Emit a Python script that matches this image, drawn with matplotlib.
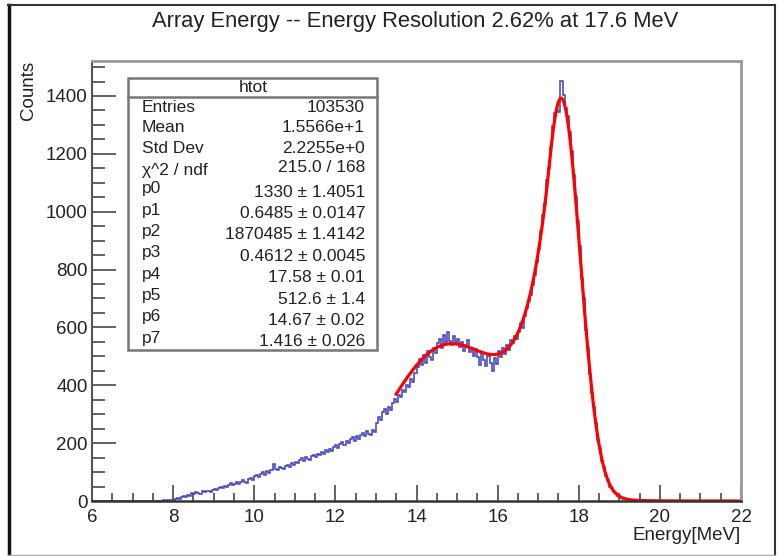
import numpy as np
import matplotlib
matplotlib.use('Agg')
import matplotlib.pyplot as plt
from matplotlib.patches import Rectangle
from matplotlib.lines import Line2D
from matplotlib.ticker import MultipleLocator

plt.rcParams['font.family'] = ['Liberation Sans', 'DejaVu Sans']

# histogram htot: 320 bins from 6 to 22 MeV
bin_lo, bin_hi, nbins = 6.0, 22.0, 320
counts = [
    # 6 - 7
    0, 0, 0, 0, 0, 0, 0, 0, 0, 0, 0, 0, 0, 0, 0, 0, 0, 0, 0, 0,
    # 7 - 8
    0, 0, 0, 0, 0, 0, 0, 0, 0, 0, 0, 1, 0, 0, 1, 2, 1, 3, 2, 4,
    # 8 - 9
    4, 7, 10, 8, 13, 17, 14, 21, 19, 26, 23, 30, 27, 25, 33, 30, 36, 34, 31, 39,
    # 9 - 10
    43, 38, 46, 50, 44, 52, 48, 57, 61, 54, 60, 66, 59, 64, 71, 67, 63, 75, 81, 74,
    # 10 - 11
    86, 90, 83, 95, 99, 91, 102, 97, 108, 127, 112, 106, 118, 113, 109, 121, 126, 117, 130, 124,
    # 11 - 12
    136, 131, 142, 147, 138, 151, 144, 140, 155, 160, 152, 164, 158, 169, 163, 176, 171, 180, 174, 186,
    # 12 - 13
    192, 184, 197, 203, 195, 208, 201, 214, 220, 209, 223, 216, 229, 235, 226, 241, 232, 228, 246, 238,
    # 13 - 14
    270, 292, 281, 306, 318, 302, 324, 314, 338, 352, 341, 366, 358, 384, 376, 402, 395, 422, 412, 444,
    # 14 - 15
    462, 490, 471, 505, 478, 520, 497, 488, 530, 512, 545, 560, 528, 575, 548, 585, 552, 540, 570, 548,
    # 15 - 16
    560, 532, 548, 520, 538, 555, 515, 530, 502, 524, 498, 470, 510, 488, 465, 502, 478, 450, 495, 472,
    # 16 - 17
    520, 498, 530, 508, 540, 522, 556, 545, 572, 560, 585, 615, 598, 640, 668, 690, 712, 748, 780, 825,
    # 17 - 18
    872, 935, 990, 1028, 1110, 1150, 1222, 1296, 1340, 1352, 1345, 1451, 1402, 1360, 1330, 1275, 1210, 1128, 1050, 968,
    # 18 - 19
    880, 770, 700, 590, 530, 440, 372, 325, 268, 212, 182, 138, 118, 86, 72, 50, 44, 30, 26, 17,
    # 19 - 20
    14, 11, 8, 7, 5, 3, 3, 2, 1, 2, 1, 0, 1, 0, 0, 0, 0, 0, 0, 0,
    # 20 - 22
    0, 0, 0, 0, 0, 0, 0, 0, 0, 0, 0, 0, 0, 0, 0, 0, 0, 0, 0, 0,
    0, 0, 0, 0, 0, 0, 0, 0, 0, 0, 0, 0, 0, 0, 0, 0, 0, 0, 0, 0,
]

# fit: crystal ball (p0, p1=alpha, p2=n, p3=sigma, p4=mean) + gaus (p5, p6, p7)
fit_lo, fit_hi = 13.5, 22.0
fit_par = [1330, 0.6485, 1870485, 0.4612, 17.58, 512.6, 14.67, 1.416]
fit_val = ['1330', '0.6485', '1870485', '0.4612', '17.58', '512.6', '14.67', '1.416']
fit_err = ['1.4051', '0.0147', '1.4142', '0.0045', '0.01', '1.4', '0.02', '0.026']

stat_names = ['Entries', 'Mean', 'Std Dev']
stat_vals = ['103530', '1.5566e+1', '2.2255e+0']
chi2_text = '215.0 / 168'

title = 'Array Energy -- Energy Resolution 2.62% at 17.6 MeV'


def fit_model(x, p0, p1, p2, p3, p4, p5, p6, p7):
    t = (x - p4) / p3
    core = p0 * np.exp(-0.5 * t**2)
    arg = np.clip(-(p1 + t) * p1 / p2, -0.999, None)
    tail = p0 * np.exp(-0.5 * p1**2 - p2 * np.log1p(arg))
    cb = np.where(t > -p1, core, tail)
    return cb + p5 * np.exp(-0.5 * ((x - p6) / p7)**2)


W, H = 778, 556


def fx(px):
    return px / W


def fy(py):
    return 1 - py / H


fig = plt.figure(figsize=(W / 100, H / 100), dpi=100)
ax = fig.add_axes([fx(92), fy(501), fx(741) - fx(92), fy(60.7) - fy(501)])

edges = np.linspace(bin_lo, bin_hi, nbins + 1)
ax.stairs(counts, edges, color='#4646ba', lw=1.15)
xf = np.linspace(fit_lo, fit_hi, 1000)
ax.plot(xf, fit_model(xf, *fit_par), color='#ff0000', lw=2.3)

ax.set_xlim(bin_lo, bin_hi)
ax.set_ylim(0, 1522)
ax.xaxis.set_major_locator(MultipleLocator(2))
ax.xaxis.set_minor_locator(MultipleLocator(0.5))
ax.yaxis.set_major_locator(MultipleLocator(200))
ax.yaxis.set_minor_locator(MultipleLocator(50))
ax.tick_params(axis='both', which='both', direction='in', color='#555555',
               width=1.3, labelsize=13.5, labelcolor='#222222')
ax.tick_params(axis='x', which='major', length=11.5, pad=6)
ax.tick_params(axis='x', which='minor', length=5.8)
ax.tick_params(axis='y', which='major', length=17, pad=3)
ax.tick_params(axis='y', which='minor', length=9.4)

for s in ['top', 'right']:
    ax.spines[s].set_color('#999999')
    ax.spines[s].set_linewidth(2)
ax.spines['left'].set_color('#555555')
ax.spines['left'].set_linewidth(1.5)
ax.spines['bottom'].set_color('#333333')
ax.spines['bottom'].set_linewidth(1.8)

# canvas frame
fig.add_artist(Line2D([fx(9), fx(9)], [fy(5), fy(555)], color='#111111', lw=2.5))
fig.add_artist(Line2D([fx(8), fx(775)], [fy(5), fy(5)], color='#333333', lw=1.5))
fig.add_artist(Line2D([fx(775), fx(775)], [fy(5), fy(555)], color='#333333', lw=1.5))
fig.add_artist(Line2D([fx(8), fx(775)], [fy(555), fy(555)], color='#aaaaaa', lw=1))

fig.text(fx(415), fy(22), title, ha='center', va='center', fontsize=15.8, color='#222222')
fig.text(fx(28), fy(61), 'Counts', rotation=90, ha='center', va='top',
         fontsize=13.5, color='#222222')
fig.text(fx(741), fy(535), 'Energy[MeV]', ha='right', va='center',
         fontsize=13.5, color='#222222')

# stats box
box = Rectangle((fx(128), fy(350)), fx(377) - fx(128), fy(78) - fy(350),
                transform=fig.transFigure, fc='white', ec='#777777', lw=1.8, zorder=5)
fig.add_artist(box)
fig.add_artist(Line2D([fx(128), fx(377)], [fy(97), fy(97)], color='#777777',
                      lw=1.8, zorder=6))
fig.text(fx(253), fy(87), 'htot', ha='center', va='center', fontsize=12.5,
         color='#222222', zorder=7)

fs = 12.5
for i, (name, val) in enumerate(zip(stat_names, stat_vals)):
    yy = 107 + 20.7 * i
    fig.text(fx(142), fy(yy), name, ha='left', va='center', fontsize=fs, color='#222222', zorder=7)
    fig.text(fx(365), fy(yy), val, ha='right', va='center', fontsize=fs, color='#222222', zorder=7)
fig.text(fx(142), fy(171), 'χ^2 / ndf', ha='left', va='center', fontsize=fs, color='#222222', zorder=7)
fig.text(fx(365), fy(167), chi2_text, ha='right', va='center', fontsize=fs, color='#222222', zorder=7)
for i in range(len(fit_par)):
    fig.text(fx(142), fy(189 + 21.3 * i), 'p%d' % i, ha='left', va='center',
             fontsize=fs, color='#222222', zorder=7)
    fig.text(fx(365), fy(192 + 21.4 * i), '%s ± %s' % (fit_val[i], fit_err[i]),
             ha='right', va='center', fontsize=fs, color='#222222', zorder=7)

fig.savefig('out.png', dpi=100)
